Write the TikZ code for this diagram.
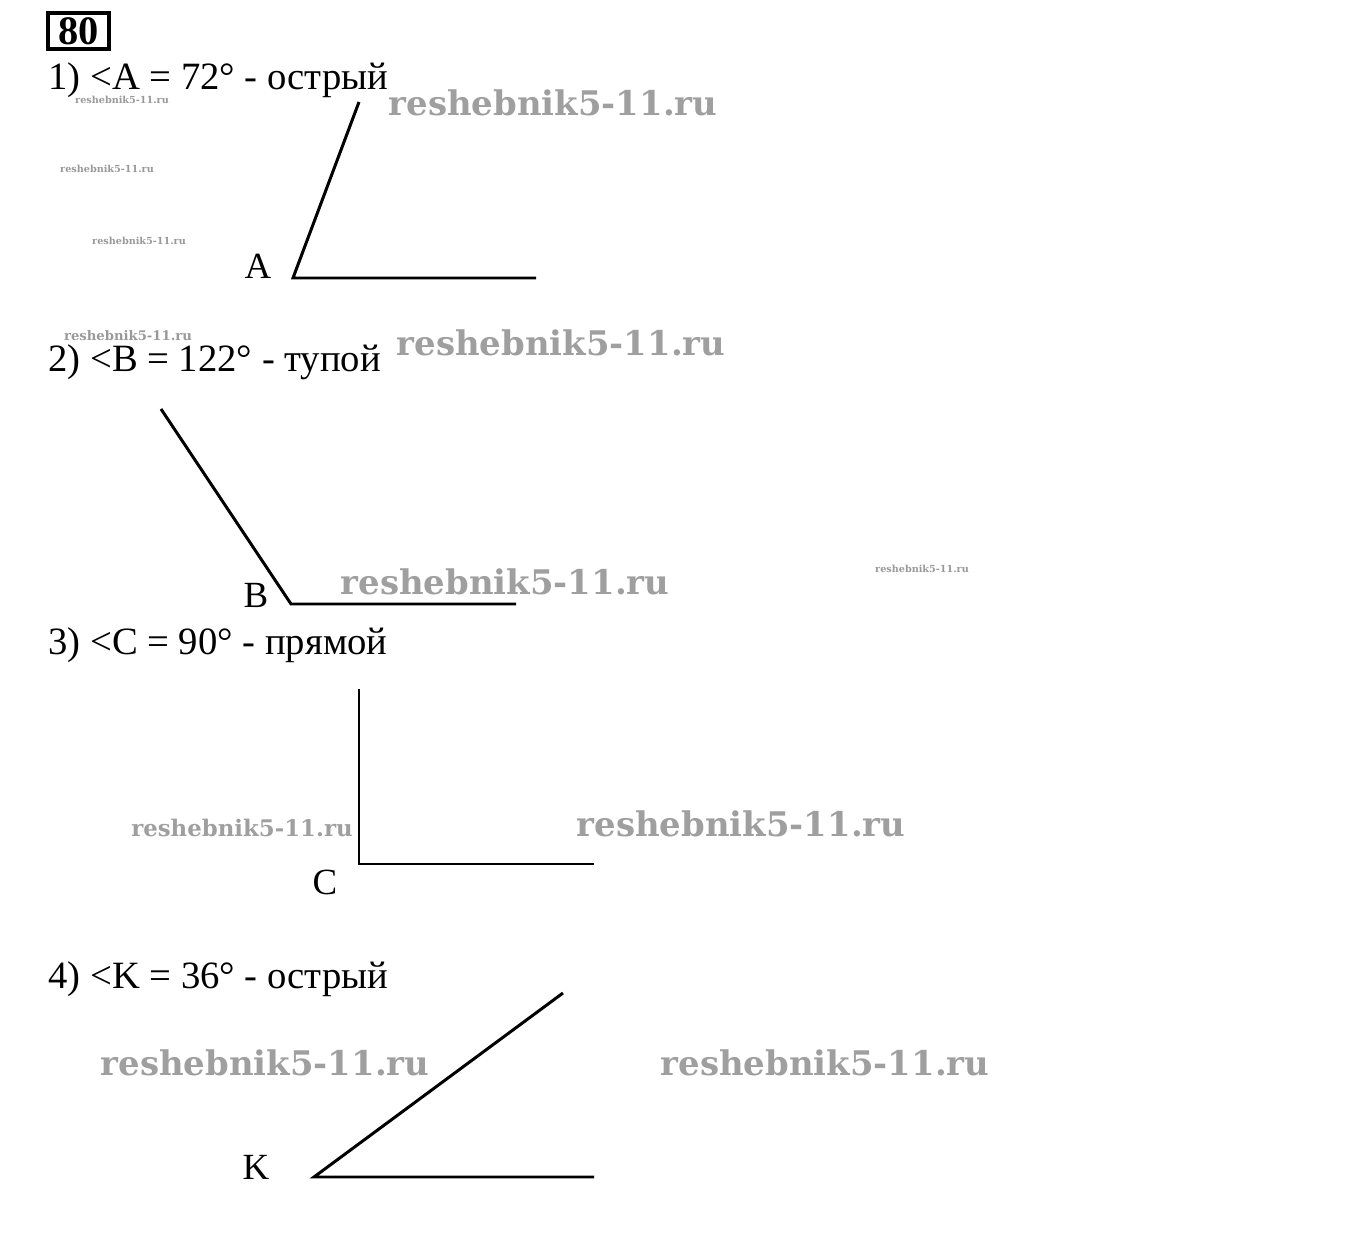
\documentclass[tikz,border=0pt]{standalone}
\usepackage{fontspec}
\setmainfont{Liberation Serif}
\newfontfamily\wmfont{DejaVu Serif}
\usetikzlibrary{positioning}

\tikzset{
  task/.style={font=\fontsize{22}{26}\selectfont, anchor=base west, inner sep=0pt},
  vlabel/.style={font=\fontsize{21}{25}\selectfont, inner sep=0pt},
  ray/.style={line width=1.7pt},
  wmbig/.style={font=\wmfont\bfseries\fontsize{19.3}{22}\selectfont, text=gray!75, inner sep=0pt},
  wmsmall/.style={font=\wmfont\bfseries\fontsize{5.5}{6}\selectfont, text=gray!80, inner sep=0pt},
  wmmid/.style={font=\wmfont\bfseries\fontsize{7.5}{9}\selectfont, text=gray!80, inner sep=0pt}
}

\begin{document}
\begin{tikzpicture}[x=0.02cm,y=-0.02cm]
\useasboundingbox (0,0) rectangle (1350,1256);

% watermarks
\node[wmbig] (w1) at (553,103) {reshebnik5-11.ru};
\node[wmbig] (w2) at (561,343) {reshebnik5-11.ru};
\node[wmbig] (w3) at (505,582) {reshebnik5-11.ru};
\node[wmbig] (w4) at (741,824) {reshebnik5-11.ru};
\node[wmbig] (w5) at (265,1063) {reshebnik5-11.ru};
\node[wmbig] (w6) at (825,1063) {reshebnik5-11.ru};
\node[wmsmall] (w7) at (122,100) {reshebnik5-11.ru};
\node[wmsmall] (w8) at (107,169) {reshebnik5-11.ru};
\node[wmsmall] (w9) at (139,241) {reshebnik5-11.ru};
\node[wmsmall] (w10) at (922,569) {reshebnik5-11.ru};
\node[wmmid] (w11) at (128,336) {reshebnik5-11.ru};
\node[wmbig,font=\wmfont\bfseries\fontsize{13}{15}\selectfont] (w12) at (242,828) {reshebnik5-11.ru};

% number of the task
\node[draw,line width=2pt,font=\bfseries\fontsize{23}{26}\selectfont,inner sep=0pt,minimum width=1.22cm,minimum height=0.72cm] (num) at (78.5,31) {80};

% 1)
\node[task] (t1) at (48,90) {1) <A = 72° - острый};
\coordinate (A) at (293,278);
\coordinate (A1) at (536,278);
\coordinate (A2) at (359,102);
\draw[ray] (A2) -- (A) -- (A1);
\node[vlabel] (lA) at (258,266) {A};

% 2)
\node[task] (t2) at (48,372) {2) <B = 122° - тупой};
\coordinate (B) at (291,604);
\coordinate (B1) at (516,604);
\coordinate (B2) at (161,409);
\draw[ray] (B2) -- (B) -- (B1);
\node[vlabel] (lB) at (256,595) {B};

% 3)
\node[task] (t3) at (48,655) {3) <C = 90° - прямой};
\coordinate (C) at (359,864);
\coordinate (C1) at (594,864);
\coordinate (C2) at (359,689);
\draw[ray] (C2) -- (C) -- (C1);
\node[vlabel] (lC) at (325,882) {C};

% 4)
\node[task] (t4) at (48,988) {4) <K = 36° - острый};
\coordinate (K) at (314,1177);
\coordinate (K1) at (594,1177);
\coordinate (K2) at (563,993);
\draw[ray] (K2) -- (K) -- (K1);
\node[vlabel] (lK) at (256,1167) {K};

\end{tikzpicture}
\end{document}
